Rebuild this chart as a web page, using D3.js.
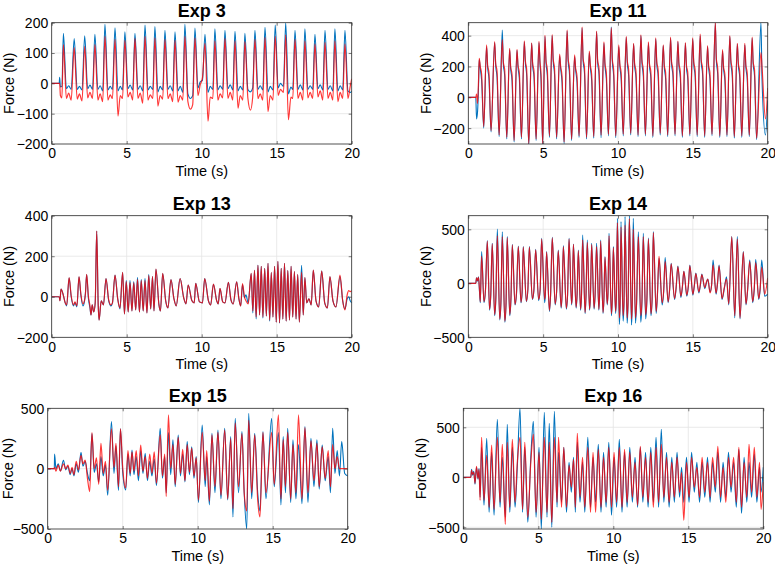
<!DOCTYPE html>
<html>
<head>
<meta charset="utf-8">
<script src="https://cdn.jsdelivr.net/npm/d3@7"></script>
<style>
body { margin: 0; background: #fff; }
text { font-family: "Liberation Sans", Arial, Helvetica, sans-serif; fill: #000; }
</style>
</head>
<body>
<svg id="chart" width="775" height="568"></svg>
<script>
// ---- data ----
const panelTitles = ["Exp 3", "Exp 11", "Exp 13", "Exp 14", "Exp 15", "Exp 16"];
const xTicks = [0, 5, 10, 15, 20];
const yTicks3 = [-200, -100, 0, 100, 200];
const yTicks11 = [-200, 0, 200, 400];
const yTicks13 = [-200, 0, 200, 400];
const yTicks14 = [-500, 0, 500];
const yTicks15 = [-500, 0, 500];
const yTicks16 = [-500, 0, 500];
const yLimits = [[-200, 200], [-303, 484], [-200, 400], [-500, 626], [-500, 500], [-517, 690]];

const exp3Time = [0,0.5,0.53,0.58,0.68,
  0.78,0.98,1.13,1.3, 1.5,1.7,1.85,2.02, 2.2,2.4,2.55,2.72, 2.88,3.08,3.23,3.4,
  3.55,3.75,3.9,4.05, 4.22,4.42,4.57,4.72, 4.88,5.08,5.23,5.4, 5.55,5.75,5.9,6.07,
  6.22,6.42,6.57,6.74, 6.88,7.08,7.23,7.4, 7.55,7.75,7.9,8.07, 8.22,8.42,8.57,8.74,
  8.88,9.08,9.25,9.4, 9.55,9.75,9.9,10.05, 10.22,10.42,10.57,10.74, 10.88,11.08,11.23,11.4,
  11.55,11.75,11.9,12.07, 12.22,12.42,12.57,12.74, 12.88,13.08,13.25,13.4, 13.55,13.75,13.9,14.07,
  14.22,14.42,14.57,14.75, 14.9,15.1,15.25,15.45, 15.6,15.78,15.95,16.07, 16.22,16.42,16.57,16.74,
  16.88,17.08,17.23,17.4, 17.55,17.75,17.9,18.07, 18.22,18.42,18.57,18.74, 18.88,19.08,19.23,19.4,
  19.55,19.75,19.9,20];
const exp3Blue = [0,0,20,-12,-10,
  165,-18,-8,-20, 148,-20,-10,-22, 157,-18,-6,-20, 162,-20,-8,-25,
  195,-22,-10,-20, 183,-25,-10,-22, 170,-18,-6,-22, 165,-20,-8,-25,
  192,-22,-10,-20, 187,-28,-10,-22, 175,-20,-8,-25, 170,-25,-10,-30,
  195,-35,-50,-40, 182,-15,5,10, 162,-30,-10,-20, 180,-22,-8,-20,
  175,-18,-5,-22, 172,-25,-10,-22, 165,-20,-28,-15, 175,-20,-8,-22,
  185,-28,-10,-22, 192,-15,0,-10, 200,-35,-12,-20, 175,-20,-5,-22,
  180,-20,-8,-20, 162,-18,-5,-22, 175,-20,-8,-25, 180,-25,-8,-22,
  175,-25,-30,-25];
const exp3Red = [0,0,0,-40,-48,
  128,-50,-32,-55, 118,-52,-35,-58, 122,-48,-30,-50, 128,-55,-35,-60,
  155,-55,-38,-50, 145,-108,-40,-50, 142,-45,-30,-55, 148,-50,-32,-65,
  155,-55,-38,-50, 150,-75,-40,-52, 145,-50,-35,-60, 142,-62,-40,-55,
  155,-60,-85,-70, 150,-40,-5,18, 132,-125,-45,-50, 140,-55,-35,-48,
  148,-50,-30,-55, 140,-82,-40,-55, 138,-50,-88,-45, 145,-50,-35,-55,
  152,-93,-40,-55, 155,-40,-20,-30, 160,-120,-45,-50, 145,-50,-30,-55,
  140,-48,-30,-50, 130,-45,-25,-55, 135,-50,-30,-55, 140,-60,-30,-50,
  130,-50,-10,15];

const exp11Time = [0,0.5,0.55,0.62,0.68,
  0.73,0.8,0.89,1.03, 1.22,1.29,1.38,1.52, 1.76,1.83,1.92,2.06, 2.27,2.34,2.43,2.57,
  2.76,2.83,2.92,3.06, 3.25,3.32,3.41,3.55, 3.74,3.81,3.9,4.04, 4.23,4.3,4.39,4.53,
  4.72,4.79,4.86,4.97, 5.12,5.19,5.28,5.42, 5.6,5.67,5.76,5.9, 6.1,6.17,6.26,6.4,
  6.6,6.67,6.76,6.9, 7.1,7.17,7.26,7.4, 7.6,7.67,7.76,7.9, 8.08,8.15,8.24,8.38,
  8.57,8.64,8.73,8.87, 9.06,9.13,9.22,9.36, 9.55,9.62,9.71,9.85, 10.05,10.12,10.21,10.35,
  10.55,10.62,10.71,10.85, 11.04,11.11,11.2,11.34, 11.53,11.6,11.69,11.83, 12.03,12.1,12.19,12.33,
  12.52,12.59,12.68,12.82, 13.02,13.09,13.18,13.32, 13.51,13.58,13.67,13.81, 14.0,14.07,14.16,14.3,
  14.5,14.57,14.66,14.8, 14.99,15.06,15.15,15.29, 15.49,15.56,15.65,15.79, 15.98,16.05,16.14,16.28,
  16.5,16.57,16.66,16.8, 16.98,17.05,17.14,17.28, 17.47,17.54,17.63,17.77, 17.97,18.04,18.13,18.27,
  18.47,18.54,18.63,18.77, 18.96,19.03,19.12,19.26, 19.55,19.62,19.85,20];
const exp11Blue = [0,0,-140,-90,60,
  245,185,110,-200, 330,195,120,-225, 355,205,130,-255, 437,215,140,-270,
  310,185,110,-290, 305,195,120,-270, 360,225,140,-310, 350,205,130,-280,
  355,215,110,-305, 395,225,140,-260, 400,235,150,-270, 270,185,100,-300,
  430,235,150,-280, 265,175,100,-260, 450,235,160,-270, 290,195,110,-265,
  425,225,150,-262, 350,205,120,-250, 455,235,140,-262, 330,205,120,-250,
  390,225,140,-245, 345,205,130,-255, 400,225,140,-250, 350,205,130,-260,
  380,215,140,-245, 335,195,120,-255, 385,215,140,-250, 360,205,130,-260,
  350,195,120,-250, 380,215,140,-255, 400,225,150,-260, 330,195,120,-250,
  480,235,150,-260, 300,185,110,-255, 395,225,140,-265, 345,205,130,-260,
  340,195,120,-255, 385,215,140,-275, 484,120,-245,-20];
const exp11Red = [0,0,20,-40,100,
  253,200,150,-190, 340,210,160,-216, 361,220,170,-244, 375,230,180,-260,
  318,200,150,-280, 311,210,160,-260, 367,240,180,-300, 354,220,170,-270,
  363,230,150,-300, 402,240,180,-250, 406,250,190,-260, 280,200,140,-290,
  437,250,190,-270, 275,190,140,-250, 456,250,200,-260, 300,210,150,-255,
  430,240,190,-245, 360,220,160,-240, 450,250,180,-250, 340,220,160,-240,
  395,240,180,-235, 350,220,170,-245, 405,240,180,-240, 360,220,170,-250,
  385,230,180,-235, 340,210,160,-245, 390,230,180,-240, 365,220,170,-250,
  355,210,160,-240, 385,230,180,-245, 410,240,190,-250, 335,210,160,-240,
  485,250,190,-250, 310,200,150,-245, 400,240,180,-255, 350,220,170,-250,
  350,210,160,-245, 390,230,180,-265, 290,200,-140,60];

const exp13Time = [0,0.5,0.55,0.62,0.75,0.9,1.0,1.16,1.3,1.45,
  1.55,1.68,1.82,1.95,2.08,2.18,2.25,2.33,2.45,2.55,
  2.62,2.7,2.8,2.9,3.0,3.1,3.16,3.3,3.45,3.62,
  3.8,3.95,4.05,4.22,4.4,4.55,4.73,4.85,4.97,5.1,
  5.22,5.35,5.47,5.6,5.72,5.85,5.97,6.1,6.22,6.35,
  6.47,6.6,6.72,6.82,6.95,7.15,7.25,7.4,7.6,7.75,
  7.95,8.15,8.3,8.56,8.8,8.95,9.1,9.35,9.5,9.6,
  9.85,10.05,10.2,10.45,10.6,10.78,11.0,11.1,11.22,11.4,
  11.55,11.78,11.95,12.1,12.33,12.48,12.6,12.72,12.85,12.95,
  13.1,13.3,13.41,13.52,13.63,13.75,13.86,13.97,14.08,14.2,
  14.31,14.42,14.53,14.64,14.75,14.86,14.97,15.08,15.19,15.3,
  15.41,15.52,15.63,15.74,15.85,15.96,16.07,16.18,16.29,16.4,
  16.51,16.66,16.77,16.88,17.0,17.15,17.3,17.44,17.62,17.8,
  18.0,18.2,18.38,18.55,18.75,18.95,19.22,19.4,19.55,19.7,
  19.8,19.9,20];
const exp13Blue = [0,0,-20,38,15,-30,-45,94,0,-45,
  -30,-50,99,5,-45,-25,20,110,-10,-55,
  -90,-40,-75,-30,324,-40,-115,-20,-40,90,
  -20,-45,-30,107,-10,-60,120,-85,80,-75,
  80,-70,75,-65,95,-75,85,-70,90,-80,
  110,-60,100,-70,136,-40,-70,115,-20,-55,
  85,-10,-45,90,-5,-35,58,-20,-30,66,
  -25,-30,90,-20,-40,62,-20,-35,41,-25,
  -30,71,-15,-35,74,-10,-45,60,-5,10,
  -30,115,-80,131,-110,156,-90,150,-105,140,
  -95,165,-120,120,-100,150,-125,175,-130,140,
  -110,165,-120,130,-115,150,-100,125,-110,110,
  -125,155,-90,95,-30,-10,-40,131,-20,-50,
  127,-30,-55,99,-20,-50,100,-20,-60,-10,
  0,-20,-30];
const exp13Red = [0,0,-20,38,15,-30,-40,94,5,-40,
  -25,-45,99,10,-35,-20,15,110,0,-45,
  -90,-40,-75,-30,324,-40,-115,-20,-40,90,
  -15,-40,-30,107,-10,-55,120,-85,75,-75,
  70,-70,70,-65,85,-75,80,-70,80,-80,
  105,-60,100,-70,136,-40,-70,115,-20,-55,
  85,-10,-45,90,-5,-35,58,-20,-30,66,
  -25,-30,90,-20,-40,62,-20,-35,41,-25,
  -30,71,-15,-35,74,-10,-45,65,0,-20,
  -35,115,-70,130,-100,155,-90,150,-100,140,
  -95,165,-115,120,-100,150,-125,175,-128,140,
  -110,165,-120,130,-115,150,-100,125,-110,110,
  -125,120,-90,95,-30,-10,-40,131,-20,-50,
  127,-30,-55,99,-20,-50,107,-20,-65,10,
  30,25,30];

const exp14Time = [0,0.5,0.55,0.62,0.68,0.74,0.8,0.89,1.05,1.15,
  1.27,1.42,1.5,1.6,1.76,1.84,1.94,2.1,2.18,2.27,
  2.44,2.52,2.6,2.77,2.85,2.94,3.12,3.22,3.34,3.52,
  3.6,3.67,3.88,3.98,4.08,4.28,4.38,4.5,4.7,4.8,
  4.9,5.1,5.15,5.23,5.42,5.5,5.61,5.8,5.9,6.01,
  6.2,6.27,6.35,6.55,6.63,6.73,6.9,6.95,7.02,7.2,
  7.27,7.35,7.5,7.56,7.64,7.8,7.86,7.95,8.1,8.16,
  8.24,8.4,8.47,8.57,8.72,8.77,8.84,9.0,9.06,9.13,
  9.28,9.33,9.4,9.56,9.62,9.69,9.84,9.89,9.96,10.09,
  10.14,10.2,10.34,10.4,10.47,10.61,10.67,10.76,10.9,10.95,
  11.02,11.17,11.24,11.36,11.52,11.6,11.69,11.85,11.93,12.03,
  12.2,12.28,12.36,12.55,12.63,12.74,12.95,13.05,13.15,13.35,
  13.45,13.55,13.78,13.88,14.0,14.2,14.3,14.4,14.6,14.7,
  14.8,15.0,15.1,15.2,15.4,15.5,15.6,15.8,15.9,16.0,
  16.15,16.25,16.35,16.55,16.65,16.75,16.95,17.1,17.25,17.4,
  17.6,17.8,17.97,18.15,18.37,18.55,18.65,18.8,19.0,19.1,
  19.2,19.4,19.5,19.6,19.8,20];
const exp14Blue = [0,0,50,20,60,-60,-180,293,-180,-60,
  395,-250,-120,370,-300,-150,503,-340,-180,478,
  -360,-200,432,-300,-150,361,-200,-100,345,-180,
  -80,340,-170,-60,340,-150,-70,315,-160,-60,
  416,-180,-100,293,-260,-100,426,-200,-80,309,
  -230,-100,349,-240,-120,416,-200,-100,364,-230,
  -100,309,-250,-120,447,-280,-140,401,-250,-120,
  370,-240,-120,370,-250,-120,401,-280,-150,247,
  -200,-100,463,-300,-150,340,-280,-150,602,-380,
  -200,571,-350,-200,617,-370,-200,626,-386,-220,
  602,-370,-200,478,-361,-180,463,-330,-160,420,
  -300,-150,480,-280,-120,231,-200,-80,238,-180,
  -60,185,-150,-50,160,-130,-40,110,-120,-30,
  170,-110,-20,95,-90,-20,85,-50,0,40,
  -80,-20,216,-100,0,170,-150,-50,60,-200,
  432,-320,432,-330,293,-200,-80,216,-180,-60,
  220,-150,-50,216,-120,-100];
const exp14Red = [0,0,50,25,55,-40,-170,250,-170,-50,
  390,-240,-100,365,-290,-130,440,-330,-160,430,
  -350,-180,420,-290,-130,355,-195,-80,340,-175,
  -60,335,-165,-50,335,-145,-60,310,-150,-50,
  410,-150,-80,290,-250,-90,420,-190,-70,300,
  -220,-80,340,-230,-100,410,-190,-90,360,-220,
  -90,300,-240,-110,400,-270,-120,380,-240,-110,
  360,-230,-100,340,-240,-100,390,-270,-140,240,
  -190,-90,440,-280,-140,330,-260,-130,560,-320,
  -180,520,-300,-170,540,-320,-180,600,-330,-200,
  500,-320,-180,430,-300,-160,430,-290,-150,410,
  -280,-140,470,-260,-110,250,-180,-70,200,-170,
  -50,180,-140,-40,155,-120,-30,110,-110,-20,
  165,-100,-20,90,-80,-10,80,-40,10,40,
  -90,-20,170,-90,10,160,-140,-40,40,-190,
  430,-300,410,-320,290,-190,-70,200,-170,-50,
  191,-140,-40,150,-100,50];

const exp15Time = [0,0.44,0.46,0.55,0.7,0.85,1.05,1.2,1.35,1.5,
  1.62,1.75,1.9,2.05,2.22,2.35,2.5,2.65,2.8,2.95,
  3.1,3.25,3.4,3.55,3.7,3.85,4.0,4.25,4.42,4.55,
  4.72,4.85,5.0,5.2,5.35,5.5,5.62,5.75,5.9,6.05,
  6.2,6.35,6.5,6.65,6.8,6.95,7.1,7.25,7.5,7.65,
  7.8,7.9,8.05,8.2,8.35,8.5,8.7,8.85,9.0,9.15,
  9.3,9.45,9.6,9.75,9.9,10.05,10.3,10.5,10.6,10.78,
  10.95,11.15,11.35,11.55,11.8,12.0,12.2,12.35,12.5,12.72,
  12.95,13.1,13.27,13.4,13.6,13.8,14.0,14.15,14.35,14.55,
  14.93,15.1,15.38,15.55,15.7,15.85,16.0,16.2,16.35,16.55,
  16.72,16.95,17.15,17.35,17.55,17.75,17.95,18.1,18.3,18.5,
  18.7,18.85,19.0,19.15,19.3,19.45,19.6,19.8,20];
const exp15Blue = [0,0,120,0,40,-20,70,-10,20,-50,
  0,-60,40,-30,135,20,60,-40,-100,290,
  -30,40,-110,100,-60,30,-220,390,-40,190,
  -180,330,-30,-177,120,-60,155,-50,100,-100,
  150,-40,127,-100,60,-60,80,-140,334,-80,
  100,-200,300,-50,238,-150,279,-60,120,-110,
  224,-50,182,-80,100,-280,362,-150,100,-300,
  293,-200,320,-250,334,-260,265,-400,417,-200,
  307,-200,-500,459,-250,293,-200,-350,307,-250,
  417,-150,300,-300,265,-200,334,-280,238,-250,
  200,-290,348,-280,251,-150,238,-170,196,-100,
  100,-200,334,-40,150,-60,224,-40,-60];
const exp15Red = [0,0,10,-20,30,-20,40,0,30,-40,
  10,-50,60,-10,110,40,70,-80,-190,298,
  0,90,-130,210,-40,60,-180,330,10,210,
  -150,329,10,-160,150,-40,140,-20,150,-60,
  196,-20,100,-80,120,-40,140,-120,280,-60,
  120,-230,445,0,200,-130,260,-40,160,-100,
  200,-30,170,-60,90,-260,300,-100,150,-270,
  280,-150,300,-220,320,-250,250,-330,380,-150,
  290,-200,-350,400,-200,280,-260,-400,300,-200,
  300,-130,445,-250,240,-150,300,-250,200,-200,
  445,-250,340,-200,230,-100,210,-150,180,-80,
  150,-150,200,0,100,0,0,0,0];

const exp16Time = [0,0.5,0.55,0.62,0.7,0.78,0.88,0.98,1.05,1.12,
  1.22,1.38,1.56,1.72,1.89,2.05,2.27,2.45,2.6,2.8,
  2.93,3.1,3.27,3.45,3.6,3.78,3.95,4.1,4.3,4.5,
  4.67,4.85,5.05,5.2,5.4,5.58,5.73,5.9,6.07,6.25,
  6.35,6.55,
  6.7,6.88,7.05,7.2,7.35,7.47,7.6,7.78,7.95,8.1,
  8.3,8.48,8.65,8.82,9.0,9.18,9.35,9.52,9.7,9.88,
  10.05,10.22,10.4,10.58,10.75,10.92,11.1,11.27,11.45,11.62,
  11.8,11.97,12.15,12.32,12.5,12.67,12.85,13.02,13.2,13.37,
  13.55,13.72,13.9,14.07,14.25,14.42,14.55,14.7,14.88,15.05,
  15.22,15.4,15.57,15.75,15.92,16.1,16.28,16.45,16.62,16.8,
  16.97,17.15,17.32,17.5,17.68,17.85,18.02,18.2,18.37,18.55,
  18.72,18.9,19.05,19.22,19.4,19.57,19.75,19.85,20];
const exp16Blue = [0,0,80,20,60,-70,100,-20,90,-200,
  300,-280,390,-350,250,-380,580,-300,200,-400,
  530,-350,300,-300,100,690,-350,300,-450,200,
  560,-400,300,-517,650,-400,540,-500,660,-300,
  250,-250,
  300,-350,150,-150,200,-350,350,-250,150,-350,
  400,-300,200,-250,330,-350,250,-300,350,-380,
  200,-300,380,-350,250,-300,300,-250,200,-300,
  300,-250,250,-300,300,-250,400,-300,480,-250,
  250,-300,200,-250,250,-200,100,-250,200,-250,
  250,-150,150,-250,150,-200,200,-250,150,-150,
  250,-250,150,-200,250,-150,150,-300,280,-360,
  200,-250,150,-200,230,-250,100,-150,100];
const exp16Red = [0,0,70,30,50,-60,110,-10,80,-230,
  400,-230,220,-300,323,-320,400,-250,330,-470,
  350,-300,380,-250,150,400,-320,350,-400,150,
  430,-350,250,-420,400,-350,350,-450,400,-250,
  400,-300,
  300,-300,120,-100,180,-300,440,-200,200,-300,
  300,-350,250,-350,280,-300,200,-250,300,-300,
  250,-250,300,-300,280,-250,250,-200,150,-280,
  310,-200,200,-250,250,-300,300,-250,330,-200,
  200,-250,150,-200,200,-150,50,-430,150,-200,
  200,-100,100,-200,200,-150,150,-200,200,-100,
  310,-200,100,-250,200,-100,200,-250,300,-300,
  150,-200,330,-150,300,-200,150,-320,-50];

const series = [
  {time: exp3Time, blue: exp3Blue, red: exp3Red, yTicks: yTicks3},
  {time: exp11Time, blue: exp11Blue, red: exp11Red, yTicks: yTicks11},
  {time: exp13Time, blue: exp13Blue, red: exp13Red, yTicks: yTicks13},
  {time: exp14Time, blue: exp14Blue, red: exp14Red, yTicks: yTicks14},
  {time: exp15Time, blue: exp15Blue, red: exp15Red, yTicks: yTicks15},
  {time: exp16Time, blue: exp16Blue, red: exp16Red, yTicks: yTicks16}
];

// ---- layout (pixel boxes of each axes) ----
const boxes = [
  {left: 51.7, top: 22.7, width: 300, height: 121.3},
  {left: 468.3, top: 22.7, width: 299.4, height: 121.3},
  {left: 51.7, top: 215.7, width: 300, height: 121.6},
  {left: 468.3, top: 215.7, width: 299.4, height: 121.6},
  {left: 47.7, top: 408.3, width: 300, height: 120.7},
  {left: 463.3, top: 408.3, width: 300, height: 120.7}
];

const svg = d3.select("#chart");
const defs = svg.append("defs");

function drawPanel(i) {
  const b = boxes[i];
  const s = series[i];

  const x = d3.scaleLinear().domain([0, 20]).range([0, b.width]);
  const y = d3.scaleLinear().domain(yLimits[i]).range([b.height, 0]);

  const g = svg.append("g").attr("transform", `translate(${b.left},${b.top})`);

  defs.append("clipPath").attr("id", "clip" + i)
    .append("rect").attr("width", b.width).attr("height", b.height);

  // grid
  g.append("g").selectAll("line")
    .data(xTicks.slice(1, -1))
    .join("line")
    .attr("x1", d => x(d)).attr("x2", d => x(d))
    .attr("y1", 0).attr("y2", b.height)
    .attr("stroke", "#e4e4e4").attr("stroke-width", 0.8);
  g.append("g").selectAll("line")
    .data(s.yTicks.filter(d => y(d) > 0.5 && y(d) < b.height - 0.5))
    .join("line")
    .attr("x1", 0).attr("x2", b.width)
    .attr("y1", d => y(d)).attr("y2", d => y(d))
    .attr("stroke", "#e4e4e4").attr("stroke-width", 0.8);

  const line = d3.line().curve(d3.curveMonotoneX).x(d => x(d[0])).y(d => y(d[1]));
  const bluePts = s.time.map((t, k) => [t, s.blue[k]]);
  const redPts = s.time.map((t, k) => [t, s.red[k]]);

  const plot = g.append("g").attr("clip-path", `url(#clip${i})`);
  plot.append("path").datum(bluePts)
    .attr("d", line).attr("fill", "none")
    .attr("stroke", "#0072BD").attr("stroke-width", 1.1).attr("stroke-linejoin", "round");
  plot.append("path").datum(redPts)
    .attr("d", line).attr("fill", "none")
    .attr("stroke", "#ff0000").attr("stroke-opacity", 0.78)
    .attr("stroke-width", 1.2).attr("stroke-linejoin", "round");

  // axes (ticks point inwards like matlab)
  const xb = g.append("g").attr("transform", `translate(0,${b.height})`)
    .call(d3.axisBottom(x).tickValues(xTicks).tickSize(-3).tickPadding(4.5));
  const yl = g.append("g")
    .call(d3.axisLeft(y).tickValues(s.yTicks).tickSize(-3).tickPadding(3.5));
  g.append("g").call(d3.axisTop(x).tickValues(xTicks).tickSize(-3).tickFormat(""));
  g.append("g").attr("transform", `translate(${b.width},0)`)
    .call(d3.axisRight(y).tickValues(s.yTicks).tickSize(-3).tickFormat(""));

  g.selectAll(".domain").remove();
  g.selectAll(".tick line").attr("stroke", "#262626").attr("stroke-width", 0.6);
  g.selectAll(".tick text").style("font-size", "14px").attr("fill", "#000");
  xb.selectAll(".tick text").attr("dy", "0.71em");
  yl.selectAll(".tick text").attr("dy", "0.35em");

  g.append("rect")
    .attr("width", b.width).attr("height", b.height)
    .attr("fill", "none").attr("stroke", "#262626").attr("stroke-width", 0.8);

  g.append("text")
    .attr("x", b.width / 2).attr("y", -6.2)
    .attr("text-anchor", "middle")
    .style("font-size", "18px").style("font-weight", "bold")
    .text(panelTitles[i]);

  g.append("text")
    .attr("x", b.width / 2).attr("y", b.height + 32)
    .attr("text-anchor", "middle")
    .style("font-size", "14.5px")
    .text("Time (s)");

  // keep the rotated label inside the page
  const labelOffset = Math.min(37.5, b.left - 13.4);
  g.append("text")
    .attr("transform", `translate(${-labelOffset},${b.height / 2}) rotate(-90)`)
    .attr("text-anchor", "middle")
    .style("font-size", "14.5px")
    .text("Force (N)");
}

for (let i = 0; i < 6; i++) drawPanel(i);
</script>
</body>
</html>
